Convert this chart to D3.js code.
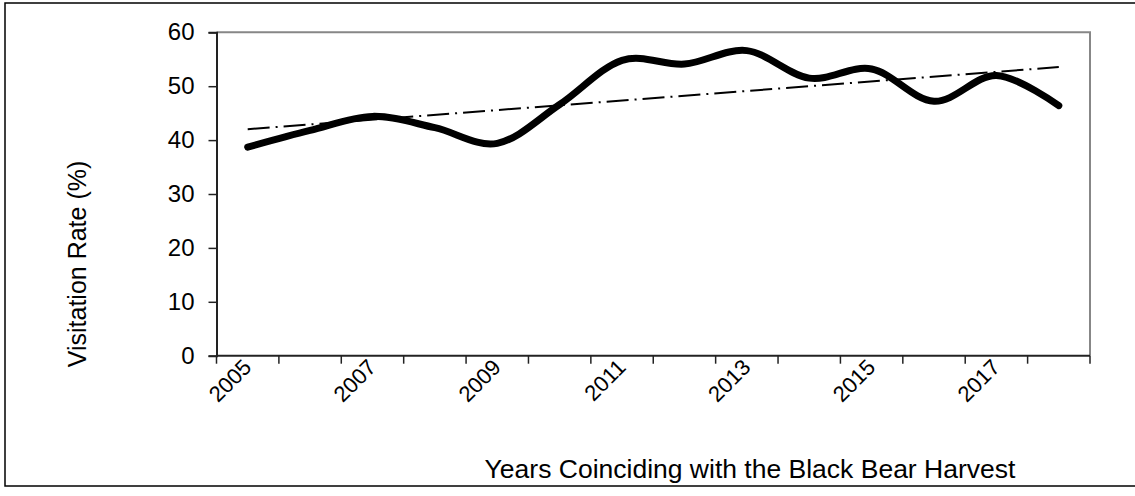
<!DOCTYPE html>
<html lang='en'>
<head>
  <meta charset='UTF-8'>
  <title>Visitation Rate</title>
  <style>
    * {
      margin: 0;
      padding: 0;
    }
    body {
      background: #fff;
    }
    #chart {
      width: 1135px;
      height: 496px;
    }
    text {
      font-family: 'Liberation Sans', Arial, sans-serif;
      fill: #000;
    }
  </style>
</head>
<body>
<script src='https://cdn.jsdelivr.net/npm/d3@7/dist/d3.min.js'></script>
<div id='chart'></div>
<script>
  // data
  const years = [2005, 2006, 2007, 2008, 2009, 2010, 2011, 2012, 2013, 2014, 2015, 2016, 2017, 2018]
  const rates = [38.7, 41.8, 44.4, 42.3, 39.4, 46.6, 54.8, 54.1, 56.6, 51.5, 53.2, 47.2, 52.0, 46.4]
  const yTicks = [0, 10, 20, 30, 40, 50, 60]
  const xLabels = [2005, 2007, 2009, 2011, 2013, 2015, 2017]

  let width = 1135
  let height = 496
  let margin = {top: 32.3, right: 45, bottom: 140.3, left: 216.5}
  let w = width - margin.left - margin.right
  let h = height - margin.top - margin.bottom

  let svg = d3.select('#chart')
  .append('svg')
  .attr('width', width)
  .attr('height', height)

  // 外框
  svg.append('rect')
  .attr('x', 5)
  .attr('y', 3)
  .attr('width', 1140)
  .attr('height', 483)
  .attr('fill', '#fff')
  .attr('stroke', '#000')
  .attr('stroke-width', 1.5)

  let chart = svg.append('g')
  .attr('transform', 'translate(' + margin.left + ',' + margin.top + ')')

  let x = d3.scaleBand()
  .domain(years)
  .range([0, w])
  .padding(0)
  let y = d3.scaleLinear()
  .domain([0, 60])
  .range([h, 0])

  // 绘图区边框 (top / right)
  chart.append('path')
  .attr('d', 'M0,0H' + w + 'V' + h)
  .attr('fill', 'none')
  .attr('stroke', '#878787')
  .attr('stroke-width', 2)

  // y axis
  let yAxis = chart.append('g')
  .call(d3.axisLeft(y).tickValues(yTicks).tickSize(8).tickPadding(14))
  yAxis.select('.domain').attr('stroke', '#222').attr('stroke-width', 2)
  yAxis.selectAll('.tick line').attr('stroke', '#222').attr('stroke-width', 1.5)
  yAxis.selectAll('text').style('font-size', '24px').attr('fill', '#000')

  // x axis: ticks between categories
  let xAxis = chart.append('g')
  .attr('transform', 'translate(0,' + h + ')')
  xAxis.append('line')
  .attr('x1', 0).attr('x2', w)
  .attr('stroke', '#222').attr('stroke-width', 2)
  let edges = years.map(d => x(d)).concat([w])
  xAxis.selectAll('.tk')
  .data(edges)
  .enter().append('line')
  .attr('x1', d => d).attr('x2', d => d)
  .attr('y1', 0).attr('y2', 8)
  .attr('stroke', '#222').attr('stroke-width', 1.5)
  xAxis.selectAll('.lbl')
  .data(xLabels)
  .enter().append('text')
  .attr('transform', d => 'translate(' + (x(d) + x.bandwidth() / 2 + 5) + ',13) rotate(-45)')
  .attr('text-anchor', 'end')
  .style('font-size', '22px')
  .text(d => d)

  // trend line (least squares)
  let n = years.length
  let idx = d3.range(n)
  let mx = d3.mean(idx)
  let my = d3.mean(rates)
  let slope = d3.sum(idx, i => (i - mx) * (rates[i] - my)) / d3.sum(idx, i => (i - mx) * (i - mx))
  let icpt = my - slope * mx
  chart.append('line')
  .attr('x1', x(years[0]) + x.bandwidth() / 2)
  .attr('x2', x(years[n - 1]) + x.bandwidth() / 2)
  .attr('y1', y(icpt))
  .attr('y2', y(icpt + slope * (n - 1)))
  .attr('stroke', '#000')
  .attr('stroke-width', 2)
  .attr('stroke-dasharray', '22,6,2,6')

  // data line
  let line = d3.line()
  .x((d, i) => x(years[i]) + x.bandwidth() / 2)
  .y(d => y(d))
  .curve(d3.curveCatmullRom.alpha(0))
  chart.append('path')
  .datum(rates)
  .attr('d', line)
  .attr('fill', 'none')
  .attr('stroke', '#000')
  .attr('stroke-width', 7)
  .attr('stroke-linejoin', 'round')
  .attr('stroke-linecap', 'round')

  // titles
  svg.append('text')
  .attr('x', 750)
  .attr('y', 478)
  .attr('text-anchor', 'middle')
  .style('font-size', '26.5px')
  .text('Years Coinciding with the Black Bear Harvest')
  svg.append('text')
  .attr('transform', 'translate(86,264) rotate(-90)')
  .attr('text-anchor', 'middle')
  .style('font-size', '25px')
  .text('Visitation Rate (%)')
</script>
</body>
</html>
